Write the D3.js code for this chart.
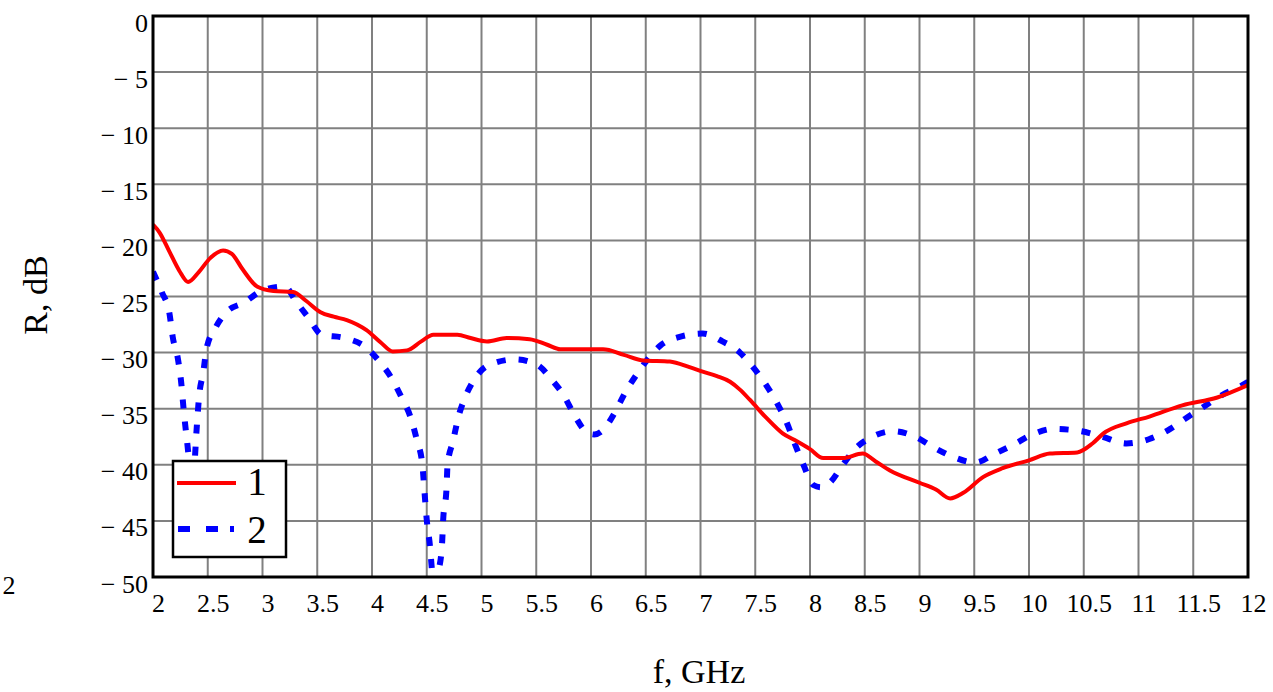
<!DOCTYPE html>
<html><head><meta charset="utf-8">
<script src="https://cdn.jsdelivr.net/npm/d3@7"></script>
<style>
body{margin:0;background:#fff;}
text{font-family:"Liberation Serif","Times New Roman",serif;fill:#000;}
</style></head>
<body><svg id="c" width="1273" height="692"></svg>
<script>
const xTicks = [2,2.5,3,3.5,4,4.5,5,5.5,6,6.5,7,7.5,8,8.5,9,9.5,10,10.5,11,11.5,12];
const xTickLabels = ["2","2.5","3","3.5","4","4.5","5","5.5","6","6.5","7","7.5","8","8.5","9","9.5","10","10.5","11","11.5","12"];
const yTicks = [0,-5,-10,-15,-20,-25,-30,-35,-40,-45,-50];
const yTickLabels = ["0","\u2212 5","\u2212 10","\u2212 15","\u2212 20","\u2212 25","\u2212 30","\u2212 35","\u2212 40","\u2212 45","\u2212 50"];
const seriesNames = ["1","2"];
const f1 = [2.0,2.06,2.15,2.24,2.32,2.42,2.52,2.64,2.72,2.82,2.95,3.1,3.28,3.4,3.53,3.65,3.77,3.95,4.08,4.19,4.32,4.45,4.56,4.78,4.9,5.05,5.23,5.44,5.6,5.72,5.9,6.11,6.3,6.48,6.72,6.9,7.02,7.15,7.27,7.36,7.45,7.6,7.75,7.88,8.0,8.12,8.3,8.48,8.6,8.73,9.0,9.15,9.28,9.4,9.58,9.76,10.0,10.19,10.44,10.58,10.68,10.89,11.1,11.4,11.72,12.0];
const r1 = [-18.6,-19.3,-21.0,-22.7,-23.7,-22.8,-21.6,-20.9,-21.2,-22.6,-24.1,-24.5,-24.6,-25.4,-26.4,-26.8,-27.1,-28.0,-29.1,-29.9,-29.8,-29.0,-28.4,-28.4,-28.7,-29.0,-28.7,-28.8,-29.3,-29.7,-29.7,-29.7,-30.2,-30.7,-30.8,-31.3,-31.7,-32.1,-32.6,-33.3,-34.2,-35.8,-37.2,-37.9,-38.6,-39.4,-39.4,-39.0,-39.7,-40.5,-41.6,-42.2,-43.0,-42.5,-41.1,-40.3,-39.6,-39.0,-38.9,-38.1,-37.2,-36.3,-35.7,-34.7,-34.0,-32.9];
const f2 = [2.0,2.08,2.15,2.18,2.23,2.26,2.28,2.31,2.34,2.37,2.40,2.42,2.46,2.49,2.57,2.67,2.84,2.99,3.2,3.31,3.42,3.54,3.75,3.94,4.06,4.18,4.27,4.35,4.41,4.46,4.48,4.5,4.53,4.55,4.57,4.59,4.61,4.64,4.65,4.68,4.69,4.74,4.79,4.85,4.94,5.07,5.31,5.51,5.64,5.75,5.85,5.96,6.03,6.11,6.22,6.31,6.4,6.51,6.63,6.81,7.02,7.2,7.36,7.48,7.6,7.71,7.79,7.86,7.94,8.03,8.1,8.18,8.3,8.41,8.57,8.76,8.96,9.12,9.31,9.51,9.69,9.86,10.03,10.22,10.47,10.67,10.89,11.1,11.29,11.44,11.6,11.76,11.93,12.0];
const r2 = [-22.8,-24.6,-26.5,-28.6,-30.7,-32.9,-35.1,-37.8,-40.2,-40.5,-36.6,-34.0,-31.7,-29.6,-27.8,-26.4,-25.5,-24.5,-24.1,-25.5,-26.9,-28.4,-28.7,-29.5,-30.7,-32.3,-34.0,-35.7,-37.8,-40.0,-42.5,-44.9,-47.3,-49.6,-50.5,-50.5,-49.4,-47.0,-44.9,-42.2,-40.0,-37.9,-35.7,-34.0,-32.3,-31.1,-30.6,-31.1,-32.4,-33.8,-35.6,-37.1,-37.3,-36.9,-35.3,-33.6,-32.2,-30.7,-29.4,-28.6,-28.3,-29.0,-30.0,-31.3,-32.9,-34.7,-36.3,-38.1,-40.0,-41.8,-42.0,-41.6,-40.0,-38.6,-37.5,-37.0,-37.5,-38.4,-39.3,-39.8,-39.0,-38.2,-37.3,-36.8,-37.0,-37.5,-38.1,-37.7,-36.8,-35.8,-34.8,-33.8,-33.0,-32.6];

const svg = d3.select("#c");
const L=153, R=1248, T=16, B=577;
const x = d3.scaleLinear().domain([2,12]).range([L,R]);
const y = d3.scaleLinear().domain([-50,0]).range([B,T]);

// grid
const g = svg.append("g");
g.selectAll(".vx").data(xTicks.slice(1,-1)).enter().append("line")
 .attr("x1",d=>x(d)).attr("x2",d=>x(d)).attr("y1",T).attr("y2",B)
 .attr("stroke","#808080").attr("stroke-width",2);
g.selectAll(".hy").data(yTicks.slice(1,-1)).enter().append("line")
 .attr("y1",d=>y(d)).attr("y2",d=>y(d)).attr("x1",L).attr("x2",R)
 .attr("stroke","#808080").attr("stroke-width",2);

// clip
svg.append("clipPath").attr("id","clip").append("rect")
 .attr("x",L).attr("y",T).attr("width",R-L).attr("height",B-T);

const line = d3.line().x(d=>x(d[0])).y(d=>y(d[1])).curve(d3.curveMonotoneX);
const d1 = f1.map((f,i)=>[f,r1[i]]);
const d2 = f2.map((f,i)=>[f,r2[i]]);
svg.append("path").attr("d",line(d2)).attr("clip-path","url(#clip)")
 .attr("fill","none").attr("stroke","#0000ff").attr("stroke-width",6)
 .attr("stroke-dasharray","9,13");
svg.append("path").attr("d",line(d1)).attr("clip-path","url(#clip)")
 .attr("fill","none").attr("stroke","#ff0000").attr("stroke-width",4);

// frame
svg.append("rect").attr("x",L).attr("y",T).attr("width",R-L).attr("height",B-T)
 .attr("fill","none").attr("stroke","#000").attr("stroke-width",3);

// axes labels (using d3 axes for positions)
const xAxis = d3.axisBottom(x).tickValues(xTicks).tickFormat((d,i)=>xTickLabels[i]).tickSize(0).tickPadding(0);
const xa = svg.append("g").attr("transform",`translate(5,612)`).call(xAxis);
xa.select(".domain").remove();
xa.selectAll("text").attr("font-size",26).attr("dy",0).attr("y",0);

const yAxis = d3.axisLeft(y).tickValues(yTicks).tickFormat((d,i)=>yTickLabels[i]).tickSize(0).tickPadding(0);
const ya = svg.append("g").attr("transform",`translate(148,15)`).call(yAxis);
ya.select(".domain").remove();
ya.selectAll("text").attr("font-size",26).attr("dy",0).attr("x",0);

svg.append("text").attr("x",9).attr("y",594).attr("font-size",26).attr("text-anchor","middle").text("2");

svg.append("text").attr("transform","translate(47,295) rotate(-90)").attr("text-anchor","middle")
 .attr("font-size",34).text("R, dB");
svg.append("text").attr("x",699).attr("y",683).attr("text-anchor","middle")
 .attr("font-size",34).text("f, GHz");

// legend
const lg = svg.append("g");
lg.append("rect").attr("x",173).attr("y",461).attr("width",113).attr("height",96)
 .attr("fill","#fff").attr("stroke","#000").attr("stroke-width",2.5);
lg.append("line").attr("x1",177).attr("x2",236).attr("y1",483).attr("y2",483)
 .attr("stroke","#ff0000").attr("stroke-width",4);
lg.append("line").attr("x1",178).attr("x2",234).attr("y1",529).attr("y2",529)
 .attr("stroke","#0000ff").attr("stroke-width",6).attr("stroke-dasharray","12,16,12,12,4,60");
lg.append("text").attr("x",257).attr("y",495).attr("font-size",39).attr("text-anchor","middle").text(seriesNames[0]);
lg.append("text").attr("x",257).attr("y",543).attr("font-size",39).attr("text-anchor","middle").text(seriesNames[1]);
</script></body></html>
